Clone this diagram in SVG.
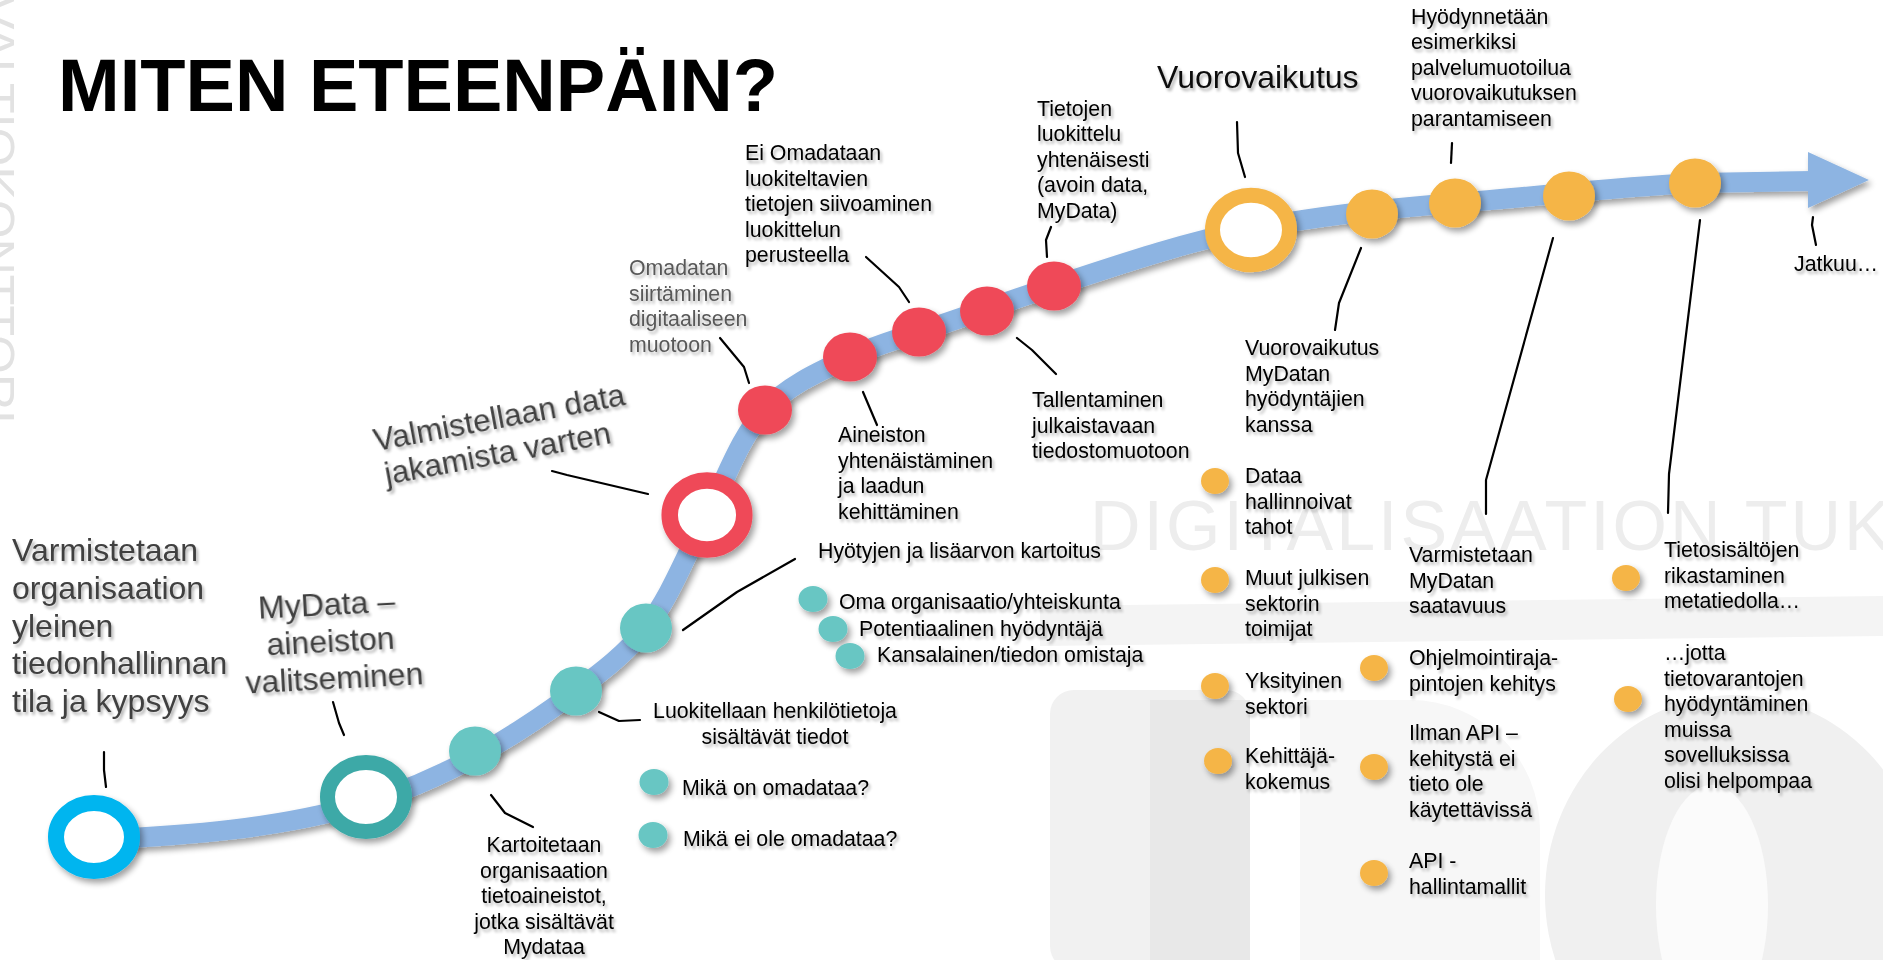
<svg xmlns="http://www.w3.org/2000/svg" width="1883" height="960" viewBox="0 0 1883 960">
<defs>
<filter id="sh" x="-0.3" y="-0.3" width="1.7" height="1.7">
<feGaussianBlur in="SourceAlpha" stdDeviation="3"/>
<feOffset dx="3" dy="4" result="o"/>
<feComponentTransfer><feFuncA type="linear" slope="0.38"/></feComponentTransfer>
<feMerge><feMergeNode/><feMergeNode in="SourceGraphic"/></feMerge>
</filter>
<filter id="tsh" x="-0.1" y="-0.3" width="1.25" height="1.7">
<feGaussianBlur in="SourceAlpha" stdDeviation="1.6"/>
<feOffset dx="2" dy="2.5" result="o"/>
<feComponentTransfer><feFuncA type="linear" slope="0.3"/></feComponentTransfer>
<feMerge><feMergeNode/><feMergeNode in="SourceGraphic"/></feMerge>
</filter>
<style>
.t{font-family:"Liberation Sans",Arial,sans-serif;font-size:21.3px;fill:#000;filter:url(#tsh)}
.big{font-size:32px;fill:#404040}
.gr{fill:#595959}
.c{text-anchor:middle}
.band{fill:none;stroke:#8DB4E2;stroke-width:20}
.ld{fill:none;stroke:#000;stroke-width:2.2;stroke-linecap:round;stroke-linejoin:round}
.ring{fill:#fff;filter:url(#sh)}
.dot{filter:url(#sh)}
.teal{fill:#67C6C3}
.red{fill:#EF4A59}
.org{fill:#F5B547}
.wm{font-family:"Liberation Sans",Arial,sans-serif}
</style>
</defs>
<rect width="1883" height="960" fill="#fff"/>
<g id="background">
<text class="wm" transform="translate(-19,0) rotate(90)" x="-4" y="0" font-size="48" fill="#e2e2e2" textLength="428" lengthAdjust="spacingAndGlyphs">VALTIOKONTTORI</text>
<polygon points="1040,606 1883,596 1883,636 1040,646" fill="#f4f4f4"/>
<rect x="1050" y="690" width="200" height="280" rx="24" fill="#f1f1f1"/>
<rect x="1150" y="700" width="100" height="270" fill="#e8e8e8"/>
<path d="M1300,700 h110 a130,130 0 0 1 130,130 v140 h-240 Z" fill="#f7f7f7"/>
<ellipse cx="1735" cy="895" rx="190" ry="200" fill="#f0f0f0"/>
<ellipse cx="1712" cy="905" rx="56" ry="120" fill="#fbfbfb"/>
<text class="wm" x="1090" y="550" font-size="70" fill="#ededed" letter-spacing="3">DIGITALISAATION TUKI</text>
</g>
<text x="58" y="111" style="font-family:'Liberation Sans',Arial,sans-serif;font-weight:bold;font-size:75px" fill="#000" textLength="720" lengthAdjust="spacingAndGlyphs">MITEN ETEENPÄIN?</text>
<g id="timeline" filter="url(#sh)">
<path class="band" d="M94,840 C185.4,835.4 278.4,829.3 366,803 C442,780.2 512.6,738.6 576,691 C601.1,672.2 626.9,652.9 646,628 C672.1,594.1 686.6,552.7 707,515 C726,479.8 738.1,439.6 765,410 C787.5,385.3 819.8,371.2 850,357 C872.2,346.6 895.7,339.7 919,332 C964.1,317.1 1008.9,300.9 1054,286 C1118.9,264.6 1183.9,242.4 1251,229 C1318.2,215.6 1386.7,208.5 1455,203 C1535,196.6 1614.8,187 1695,183 L1812,181"/>
<polygon points="1808,152 1869,180 1808,208" fill="#8DB4E2"/>
</g>
<g id="connectors">
<polyline class="ld" points="104,752 104,770 106,787"/>
<polyline class="ld" points="333,702 339,723 344,735"/>
<polyline class="ld" points="491,795 505,813 533,827"/>
<polyline class="ld" points="599,712 619,721 640,720"/>
<polyline class="ld" points="683,630 737,592 795,559"/>
<polyline class="ld" points="552,471 567,475 648,494"/>
<polyline class="ld" points="720,338 744,367 749,383"/>
<polyline class="ld" points="863,392 877,425"/>
<polyline class="ld" points="866,257 899,287 909,302"/>
<polyline class="ld" points="1017,338 1032,350 1056,374"/>
<polyline class="ld" points="1051,227 1046,240 1047,257"/>
<polyline class="ld" points="1237,122 1238,153 1245,177"/>
<polyline class="ld" points="1452,143 1451,163"/>
<polyline class="ld" points="1361,248 1339,303 1335,330"/>
<polyline class="ld" points="1553,238 1486,480 1486,514"/>
<polyline class="ld" points="1700,220 1669,474 1668,513"/>
<polyline class="ld" points="1813,217 1812,225 1816,245"/>
</g>
<g id="n-start">
<ellipse class="ring" cx="94" cy="837" rx="38" ry="34" stroke="#00B5EF" stroke-width="16"/>
<text class="t big"><tspan x="12" y="561">Varmistetaan</tspan><tspan x="12" y="599">organisaation</tspan><tspan x="12" y="637">yleinen</tspan><tspan x="12" y="674">tiedonhallinnan</tspan><tspan x="12" y="712">tila ja kypsyys</tspan></text>
</g>
<g id="n-mydata">
<ellipse class="ring" cx="366" cy="797" rx="38.5" ry="34.5" stroke="#3DA9A7" stroke-width="15"/>
<text class="t big c" transform="translate(331,652) rotate(-3)"><tspan x="-2" y="-37">MyData –</tspan><tspan x="0" y="0">aineiston</tspan><tspan x="2" y="37">valitseminen</tspan></text>
</g>
<g id="n-kartoitetaan">
<ellipse class="dot teal" cx="475" cy="751" rx="26" ry="24.5"/>
<text class="t c"><tspan x="544" y="852">Kartoitetaan</tspan><tspan x="544" y="877.5">organisaation</tspan><tspan x="544" y="903">tietoaineistot,</tspan><tspan x="544" y="928.5">jotka sisältävät</tspan><tspan x="544" y="954">Mydataa</tspan></text>
</g>
<g id="n-luokitellaan">
<ellipse class="dot teal" cx="576" cy="691" rx="26" ry="24.5"/>
<text class="t c"><tspan x="775" y="718">Luokitellaan henkilötietoja</tspan><tspan x="775" y="744">sisältävät tiedot</tspan></text>
<ellipse class="dot teal" cx="654" cy="782" rx="14.5" ry="13"/>
<text class="t" x="682" y="795">Mikä on omadataa?</text>
<ellipse class="dot teal" cx="653" cy="835" rx="14.5" ry="13"/>
<text class="t" x="683" y="846">Mikä ei ole omadataa?</text>
</g>
<g id="n-hyotyjen">
<ellipse class="dot teal" cx="646" cy="628" rx="26" ry="24.5"/>
<text class="t" x="818" y="558">Hyötyjen ja lisäarvon kartoitus</text>
<ellipse class="dot teal" cx="813" cy="599" rx="14.5" ry="13"/>
<text class="t" x="839" y="609">Oma organisaatio/yhteiskunta</text>
<ellipse class="dot teal" cx="833" cy="629" rx="14.5" ry="13"/>
<text class="t" x="859" y="636">Potentiaalinen hyödyntäjä</text>
<ellipse class="dot teal" cx="850" cy="656" rx="14.5" ry="13"/>
<text class="t" x="877" y="662">Kansalainen/tiedon omistaja</text>
</g>
<g id="n-valmistellaan">
<ellipse class="ring" cx="707" cy="515" rx="37.3" ry="34.5" stroke="#EF4A59" stroke-width="16.5"/>
<text class="t big c" style="font-size:31.5px" transform="translate(501,428) rotate(-10.5)"><tspan x="0" y="0">Valmistellaan data</tspan><tspan x="-8" y="35">jakamista varten</tspan></text>
</g>
<g id="n-omadatan">
<ellipse class="dot red" cx="765" cy="410" rx="27" ry="24.5"/>
<text class="t gr"><tspan x="629" y="275">Omadatan</tspan><tspan x="629" y="300.5">siirtäminen</tspan><tspan x="629" y="326">digitaaliseen</tspan><tspan x="629" y="351.5">muotoon</tspan></text>
</g>
<g id="n-aineiston">
<ellipse class="dot red" cx="850" cy="357" rx="27" ry="24.5"/>
<text class="t"><tspan x="838" y="442">Aineiston</tspan><tspan x="838" y="467.5">yhtenäistäminen</tspan><tspan x="838" y="493">ja laadun</tspan><tspan x="838" y="518.5">kehittäminen</tspan></text>
</g>
<g id="n-ei-omadataan">
<ellipse class="dot red" cx="919" cy="332" rx="27" ry="24.5"/>
<text class="t"><tspan x="745" y="160">Ei Omadataan</tspan><tspan x="745" y="185.5">luokiteltavien</tspan><tspan x="745" y="211">tietojen siivoaminen</tspan><tspan x="745" y="236.5">luokittelun</tspan><tspan x="745" y="262">perusteella</tspan></text>
</g>
<g id="n-tallentaminen">
<ellipse class="dot red" cx="987" cy="311" rx="27" ry="24.5"/>
<text class="t"><tspan x="1032" y="407">Tallentaminen</tspan><tspan x="1032" y="432.5">julkaistavaan</tspan><tspan x="1032" y="458">tiedostomuotoon</tspan></text>
</g>
<g id="n-tietojen">
<ellipse class="dot red" cx="1054" cy="286" rx="27" ry="24.5"/>
<text class="t"><tspan x="1037" y="115.5">Tietojen</tspan><tspan x="1037" y="141">luokittelu</tspan><tspan x="1037" y="166.5">yhtenäisesti</tspan><tspan x="1037" y="192">(avoin data,</tspan><tspan x="1037" y="217.5">MyData)</tspan></text>
</g>
<g id="n-vuorovaikutus">
<ellipse class="ring" cx="1251" cy="230" rx="38.5" ry="34.8" stroke="#F5B547" stroke-width="15"/>
<text class="t" style="font-size:32px;fill:#111" x="1157" y="88">Vuorovaikutus</text>
</g>
<g id="n-vuoro-mydata">
<ellipse class="dot org" cx="1372" cy="214" rx="26" ry="24.5"/>
<text class="t"><tspan x="1245" y="355">Vuorovaikutus</tspan><tspan x="1245" y="380.5">MyDatan</tspan><tspan x="1245" y="406">hyödyntäjien</tspan><tspan x="1245" y="431.5">kanssa</tspan></text>
<ellipse class="dot org" cx="1215" cy="481" rx="14" ry="13"/>
<text class="t"><tspan x="1245" y="483">Dataa</tspan><tspan x="1245" y="508.5">hallinnoivat</tspan><tspan x="1245" y="534">tahot</tspan></text>
<ellipse class="dot org" cx="1215" cy="580" rx="14" ry="13"/>
<text class="t"><tspan x="1245" y="585">Muut julkisen</tspan><tspan x="1245" y="610.5">sektorin</tspan><tspan x="1245" y="636">toimijat</tspan></text>
<ellipse class="dot org" cx="1215" cy="686" rx="14" ry="13"/>
<text class="t"><tspan x="1245" y="688">Yksityinen</tspan><tspan x="1245" y="713.5">sektori</tspan></text>
<ellipse class="dot org" cx="1218" cy="761" rx="14" ry="13"/>
<text class="t"><tspan x="1245" y="763">Kehittäjä-</tspan><tspan x="1245" y="788.5">kokemus</tspan></text>
</g>
<g id="n-hyodynnetaan">
<ellipse class="dot org" cx="1455" cy="203" rx="26" ry="24.5"/>
<text class="t"><tspan x="1411" y="23.5">Hyödynnetään</tspan><tspan x="1411" y="49">esimerkiksi</tspan><tspan x="1411" y="74.5">palvelumuotoilua</tspan><tspan x="1411" y="100">vuorovaikutuksen</tspan><tspan x="1411" y="125.5">parantamiseen</tspan></text>
</g>
<g id="n-saatavuus">
<ellipse class="dot org" cx="1569" cy="196" rx="26" ry="24.5"/>
<text class="t"><tspan x="1409" y="562">Varmistetaan</tspan><tspan x="1409" y="587.5">MyDatan</tspan><tspan x="1409" y="613">saatavuus</tspan></text>
<ellipse class="dot org" cx="1374" cy="668" rx="14" ry="13"/>
<text class="t"><tspan x="1409" y="665">Ohjelmointiraja-</tspan><tspan x="1409" y="690.5">pintojen kehitys</tspan></text>
<ellipse class="dot org" cx="1374" cy="767" rx="14" ry="13"/>
<text class="t"><tspan x="1409" y="740">Ilman API –</tspan><tspan x="1409" y="765.5">kehitystä ei</tspan><tspan x="1409" y="791">tieto ole</tspan><tspan x="1409" y="816.5">käytettävissä</tspan></text>
<ellipse class="dot org" cx="1374" cy="873" rx="14" ry="13"/>
<text class="t"><tspan x="1409" y="868">API -</tspan><tspan x="1409" y="893.5">hallintamallit</tspan></text>
</g>
<g id="n-tietosisallot">
<ellipse class="dot org" cx="1695" cy="183" rx="26" ry="24.5"/>
<ellipse class="dot org" cx="1626" cy="578" rx="14" ry="13"/>
<text class="t"><tspan x="1664" y="557">Tietosisältöjen</tspan><tspan x="1664" y="582.5">rikastaminen</tspan><tspan x="1664" y="608">metatiedolla…</tspan></text>
<ellipse class="dot org" cx="1628" cy="699" rx="14" ry="13"/>
<text class="t"><tspan x="1664" y="660">…jotta</tspan><tspan x="1664" y="685.5">tietovarantojen</tspan><tspan x="1664" y="711">hyödyntäminen</tspan><tspan x="1664" y="736.5">muissa</tspan><tspan x="1664" y="762">sovelluksissa</tspan><tspan x="1664" y="787.5">olisi helpompaa</tspan></text>
</g>
<g id="n-jatkuu">
<text class="t" x="1794" y="271">Jatkuu…</text>
</g>
</svg>
